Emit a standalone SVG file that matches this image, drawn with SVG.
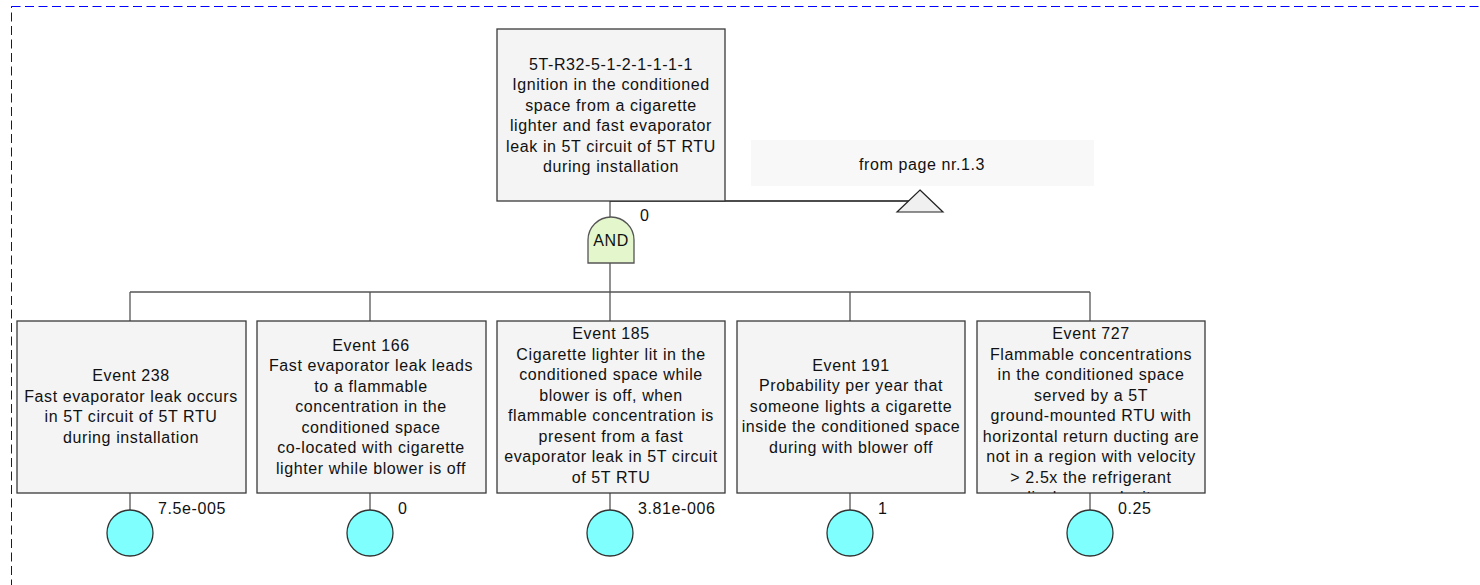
<svg xmlns="http://www.w3.org/2000/svg" width="1480" height="585" viewBox="0 0 1480 585">
<style>
.box{fill:#f4f4f4;stroke:#3a3a3a;stroke-width:1.3}
.t{font-family:"Liberation Sans",Arial,sans-serif;font-size:16px;letter-spacing:0.6px;fill:#111;text-anchor:middle}
.p{font-family:"Liberation Sans",Arial,sans-serif;font-size:16px;letter-spacing:0.6px;fill:#111}
.ln{stroke:#555;stroke-width:1.3;fill:none}
.ev{fill:#80ffff;stroke:#333;stroke-width:1.3}
</style>
<defs>
<clipPath id="c727"><rect x="977" y="321" width="228" height="172"/></clipPath>
</defs>
<rect x="11.5" y="6.5" width="1500" height="600" fill="none" stroke="#0000ff" stroke-width="1" stroke-dasharray="9 4.5"/>
<g id="connectors">
<line class="ln" x1="610" y1="201" x2="610" y2="218"/>
<line x1="610" y1="201" x2="915" y2="201" stroke="#111" stroke-width="1.3"/>
<line class="ln" x1="610" y1="263" x2="610" y2="292"/>
<line class="ln" x1="130" y1="292" x2="1090" y2="292"/>
<line class="ln" x1="130" y1="292" x2="130" y2="321"/>
<line class="ln" x1="370" y1="292" x2="370" y2="321"/>
<line class="ln" x1="610" y1="292" x2="610" y2="321"/>
<line class="ln" x1="850" y1="292" x2="850" y2="321"/>
<line class="ln" x1="1090" y1="292" x2="1090" y2="321"/>
<line class="ln" x1="130" y1="493" x2="130" y2="510"/>
<line class="ln" x1="370" y1="493" x2="370" y2="510"/>
<line class="ln" x1="610" y1="493" x2="610" y2="510"/>
<line class="ln" x1="850" y1="493" x2="850" y2="510"/>
<line class="ln" x1="1090" y1="493" x2="1090" y2="510"/>
</g>
<g id="top">
<rect class="box" x="497" y="29" width="228" height="172"/>
<text class="t"><tspan x="611" y="69.5">5T-R32-5-1-2-1-1-1-1</tspan><tspan x="611" y="90">Ignition in the conditioned</tspan><tspan x="611" y="110.5">space from a cigarette</tspan><tspan x="611" y="131">lighter and fast evaporator</tspan><tspan x="611" y="151.5">leak in 5T circuit of 5T RTU</tspan><tspan x="611" y="172">during installation</tspan></text>
</g>
<g id="transfer">
<rect x="751" y="140" width="343" height="46" fill="#f8f8f8"/>
<text class="t" x="922" y="170">from page nr.1.3</text>
<polygon points="920,190 943,212 897,212" fill="#f0f0f0" stroke="#222" stroke-width="1.2"/>
</g>
<g id="gate">
<path d="M588,263 L588,240 A23,23 0 0 1 634,240 L634,263 Z" fill="#e4f7cc" stroke="#555" stroke-width="1.3"/>
<text class="t" x="611" y="246">AND</text>
<text class="p" x="640" y="221">0</text>
</g>
<g id="e238">
<rect class="box" x="17" y="321" width="229" height="172"/>
<text class="t"><tspan x="131" y="381">Event 238</tspan><tspan x="131" y="401.5">Fast evaporator leak occurs</tspan><tspan x="131" y="422">in 5T circuit of 5T RTU</tspan><tspan x="131" y="442.5">during installation</tspan></text>
<circle class="ev" cx="130" cy="533" r="23"/>
<text class="p" x="158" y="514">7.5e-005</text>
</g>
<g id="e166">
<rect class="box" x="257" y="321" width="229" height="172"/>
<text class="t"><tspan x="371" y="350.5">Event 166</tspan><tspan x="371" y="371">Fast evaporator leak leads</tspan><tspan x="371" y="391.5">to a flammable</tspan><tspan x="371" y="412">concentration in the</tspan><tspan x="371" y="432.5">conditioned space</tspan><tspan x="371" y="453">co-located with cigarette</tspan><tspan x="371" y="473.5">lighter while blower is off</tspan></text>
<circle class="ev" cx="370" cy="533" r="23"/>
<text class="p" x="398" y="514">0</text>
</g>
<g id="e185">
<rect class="box" x="497" y="321" width="228" height="172"/>
<text class="t"><tspan x="611" y="339">Event 185</tspan><tspan x="611" y="359.5">Cigarette lighter lit in the</tspan><tspan x="611" y="380">conditioned space while</tspan><tspan x="611" y="400.5">blower is off, when</tspan><tspan x="611" y="421">flammable concentration is</tspan><tspan x="611" y="441.5">present from a fast</tspan><tspan x="611" y="462">evaporator leak in 5T circuit</tspan><tspan x="611" y="482.5">of 5T RTU</tspan></text>
<circle class="ev" cx="610" cy="533" r="23"/>
<text class="p" x="638" y="514">3.81e-006</text>
</g>
<g id="e191">
<rect class="box" x="737" y="321" width="228" height="172"/>
<text class="t"><tspan x="851" y="370.5">Event 191</tspan><tspan x="851" y="391">Probability per year that</tspan><tspan x="851" y="411.5">someone lights a cigarette</tspan><tspan x="851" y="432">inside the conditioned space</tspan><tspan x="851" y="452.5">during with blower off</tspan></text>
<circle class="ev" cx="850" cy="533" r="23"/>
<text class="p" x="878" y="514">1</text>
</g>
<g id="e727">
<rect class="box" x="977" y="321" width="228" height="172"/>
<text class="t" clip-path="url(#c727)"><tspan x="1091" y="339">Event 727</tspan><tspan x="1091" y="359.5">Flammable concentrations</tspan><tspan x="1091" y="380">in the conditioned space</tspan><tspan x="1091" y="400.5">served by a 5T</tspan><tspan x="1091" y="421">ground-mounted RTU with</tspan><tspan x="1091" y="441.5">horizontal return ducting are</tspan><tspan x="1091" y="462">not in a region with velocity</tspan><tspan x="1091" y="482.5">&gt; 2.5x the refrigerant</tspan><tspan x="1091" y="503">discharge velocity</tspan></text>
<circle class="ev" cx="1090" cy="533" r="23"/>
<text class="p" x="1118" y="514">0.25</text>
</g>
</svg>
